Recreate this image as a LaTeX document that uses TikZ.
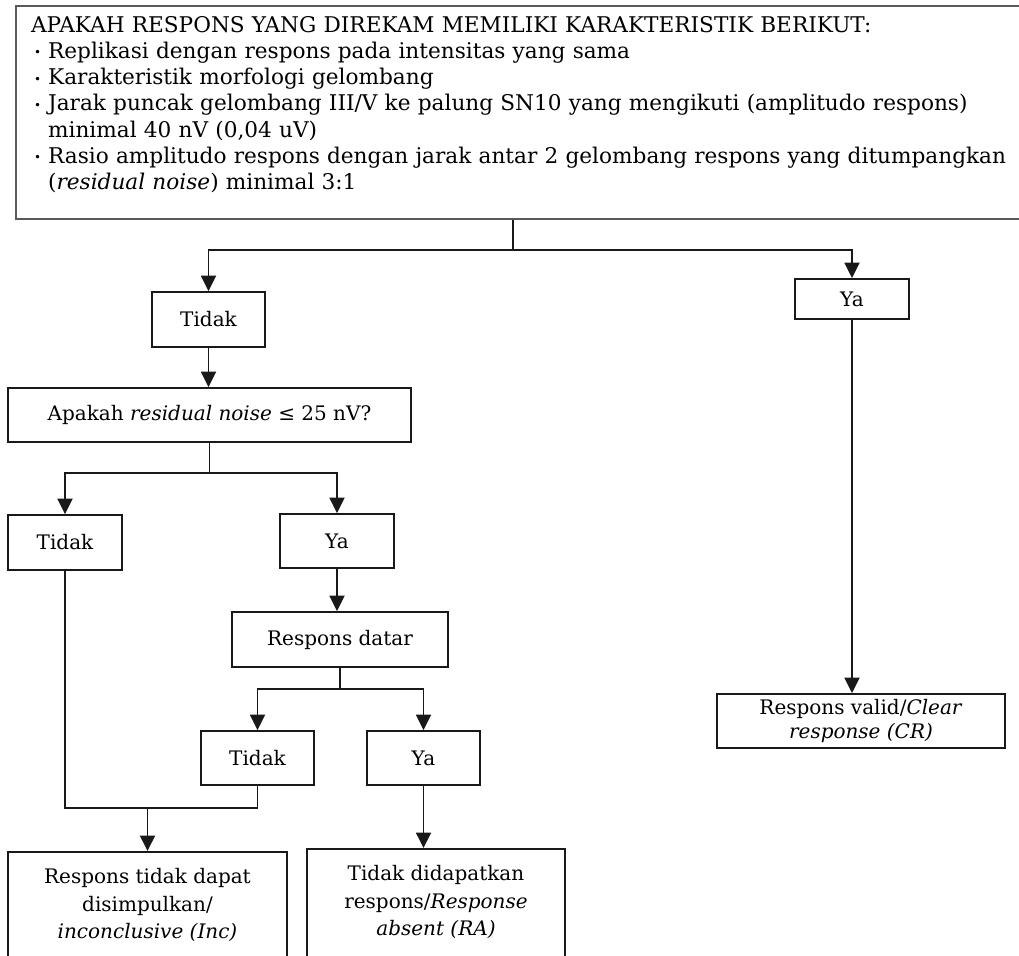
\documentclass[tikz,border=0pt]{standalone}
\usepackage{fontspec}
\setmainfont{DejaVu Serif}
\usepackage{tikz}
\usetikzlibrary{arrows.meta,positioning}

\newlength\bulw
\setlength\bulw{6.8pt}
\newcommand\bul{\makebox[\bulw][l]{\hspace*{1.2pt}\raisebox{0.6pt}{\scalebox{0.55}{\textbullet}}}}

\begin{document}
\begin{tikzpicture}[
x=0.4pt, y=-0.4pt,
font=\fontsize{8}{10.4}\selectfont,
box/.style={draw=black!90, line width=0.75pt, rectangle, align=center, inner sep=0pt},
topbox/.style={draw=black!65, line width=0.9pt, rectangle, align=left, text width=400pt, inner xsep=6pt, inner ysep=4pt, text depth=70.8pt, font=\fontsize{8.65}{10.5}\selectfont},
endbox/.style={box, anchor=north, inner ysep=6.6pt, text depth=30pt, font=\fontsize{8}{11}\selectfont},
link/.style={line width=0.75pt, black!90},
arr/.style={link, -{Triangle[width=6pt,length=6.2pt]}}]
    \clip (0,0) rectangle (1019,955);

    % question box
    \node[topbox, anchor=north west] (top) at (15,5) {APAKAH RESPONS YANG DIREKAM MEMILIKI KARAKTERISTIK BERIKUT:\\
        \bul Replikasi dengan respons pada intensitas yang sama\\
        \bul Karakteristik morfologi gelombang\\
        \bul Jarak puncak gelombang III/V ke palung SN10 yang mengikuti (amplitudo respons)\\
        \hspace*{\bulw}minimal 40 nV (0,04 uV)\\
        \bul Rasio amplitudo respons dengan jarak antar 2 gelombang respons yang ditumpangkan\\
        \hspace*{\bulw}(\textit{residual noise}) minimal 3:1};

    \node[box, minimum width=45.2pt, minimum height=22pt] (tidakA) at (208.5,319.5) {Tidak};
    \node[box, minimum width=45.6pt, minimum height=16pt] (yaA) at (852,299) {Ya};
    \node[box, minimum width=161.2pt, minimum height=21.6pt] (noise) at (209.5,415) {Apakah \textit{residual noise} ≤ 25 nV?};
    \node[box, minimum width=45.6pt, minimum height=22pt] (tidakB) at (65,542.5) {Tidak};
    \node[box, minimum width=45.6pt, minimum height=21.6pt] (yaB) at (337,541) {Ya};
    \node[box, minimum width=86.4pt, minimum height=22pt] (datar) at (340,639.5) {Respons datar};
    \node[box, minimum width=45.2pt, minimum height=21.6pt] (tidakC) at (257.5,758) {Tidak};
    \node[box, minimum width=45.2pt, minimum height=21.6pt] (yaC) at (423.5,758) {Ya};

    % outcomes
    \node[endbox, minimum width=111.6pt] (inc) at (147.5,851) {Respons tidak dapat\\disimpulkan/\\\textit{inconclusive (Inc)}};
    \node[endbox, minimum width=103.2pt] (absent) at (436,848) {Tidak didapatkan\\respons/\textit{Response}\\\textit{absent (RA)}};
    \node[box, minimum width=115.2pt, minimum height=21.6pt, font=\fontsize{8}{9.4}\selectfont] (clear) at (861,721) {Respons valid/\textit{Clear}\\\textit{response (CR)}};

    \coordinate (fork) at (513,250);
    \coordinate (j) at (147.5,808);

    \draw[link] (top.south -| fork) -- (fork);
    \draw[arr] (fork) -| (tidakA.north);
    \draw[arr] (fork) -| (yaA.north);
    \draw[arr] (tidakA.south) -- (tidakA.south |- noise.north);
    \draw[arr] (yaA.south) -- (yaA.south |- clear.north);
    \draw[arr] (noise.south) -- ++(0,30) -| (tidakB.north);
    \draw[arr] (noise.south) -- ++(0,30) -| (yaB.north);
    \draw[arr] (yaB.south) -- (yaB.south |- datar.north);
    \draw[arr] (datar.south) -- ++(0,21) -| (tidakC.north);
    \draw[arr] (datar.south) -- ++(0,21) -| (yaC.north);
    \draw[link] (tidakB.south) |- (j) -| (tidakC.south);
    \draw[arr] (j) -- (inc.north);
    \draw[arr] (yaC.south) -- (yaC.south |- absent.north);
\end{tikzpicture}
\end{document}
